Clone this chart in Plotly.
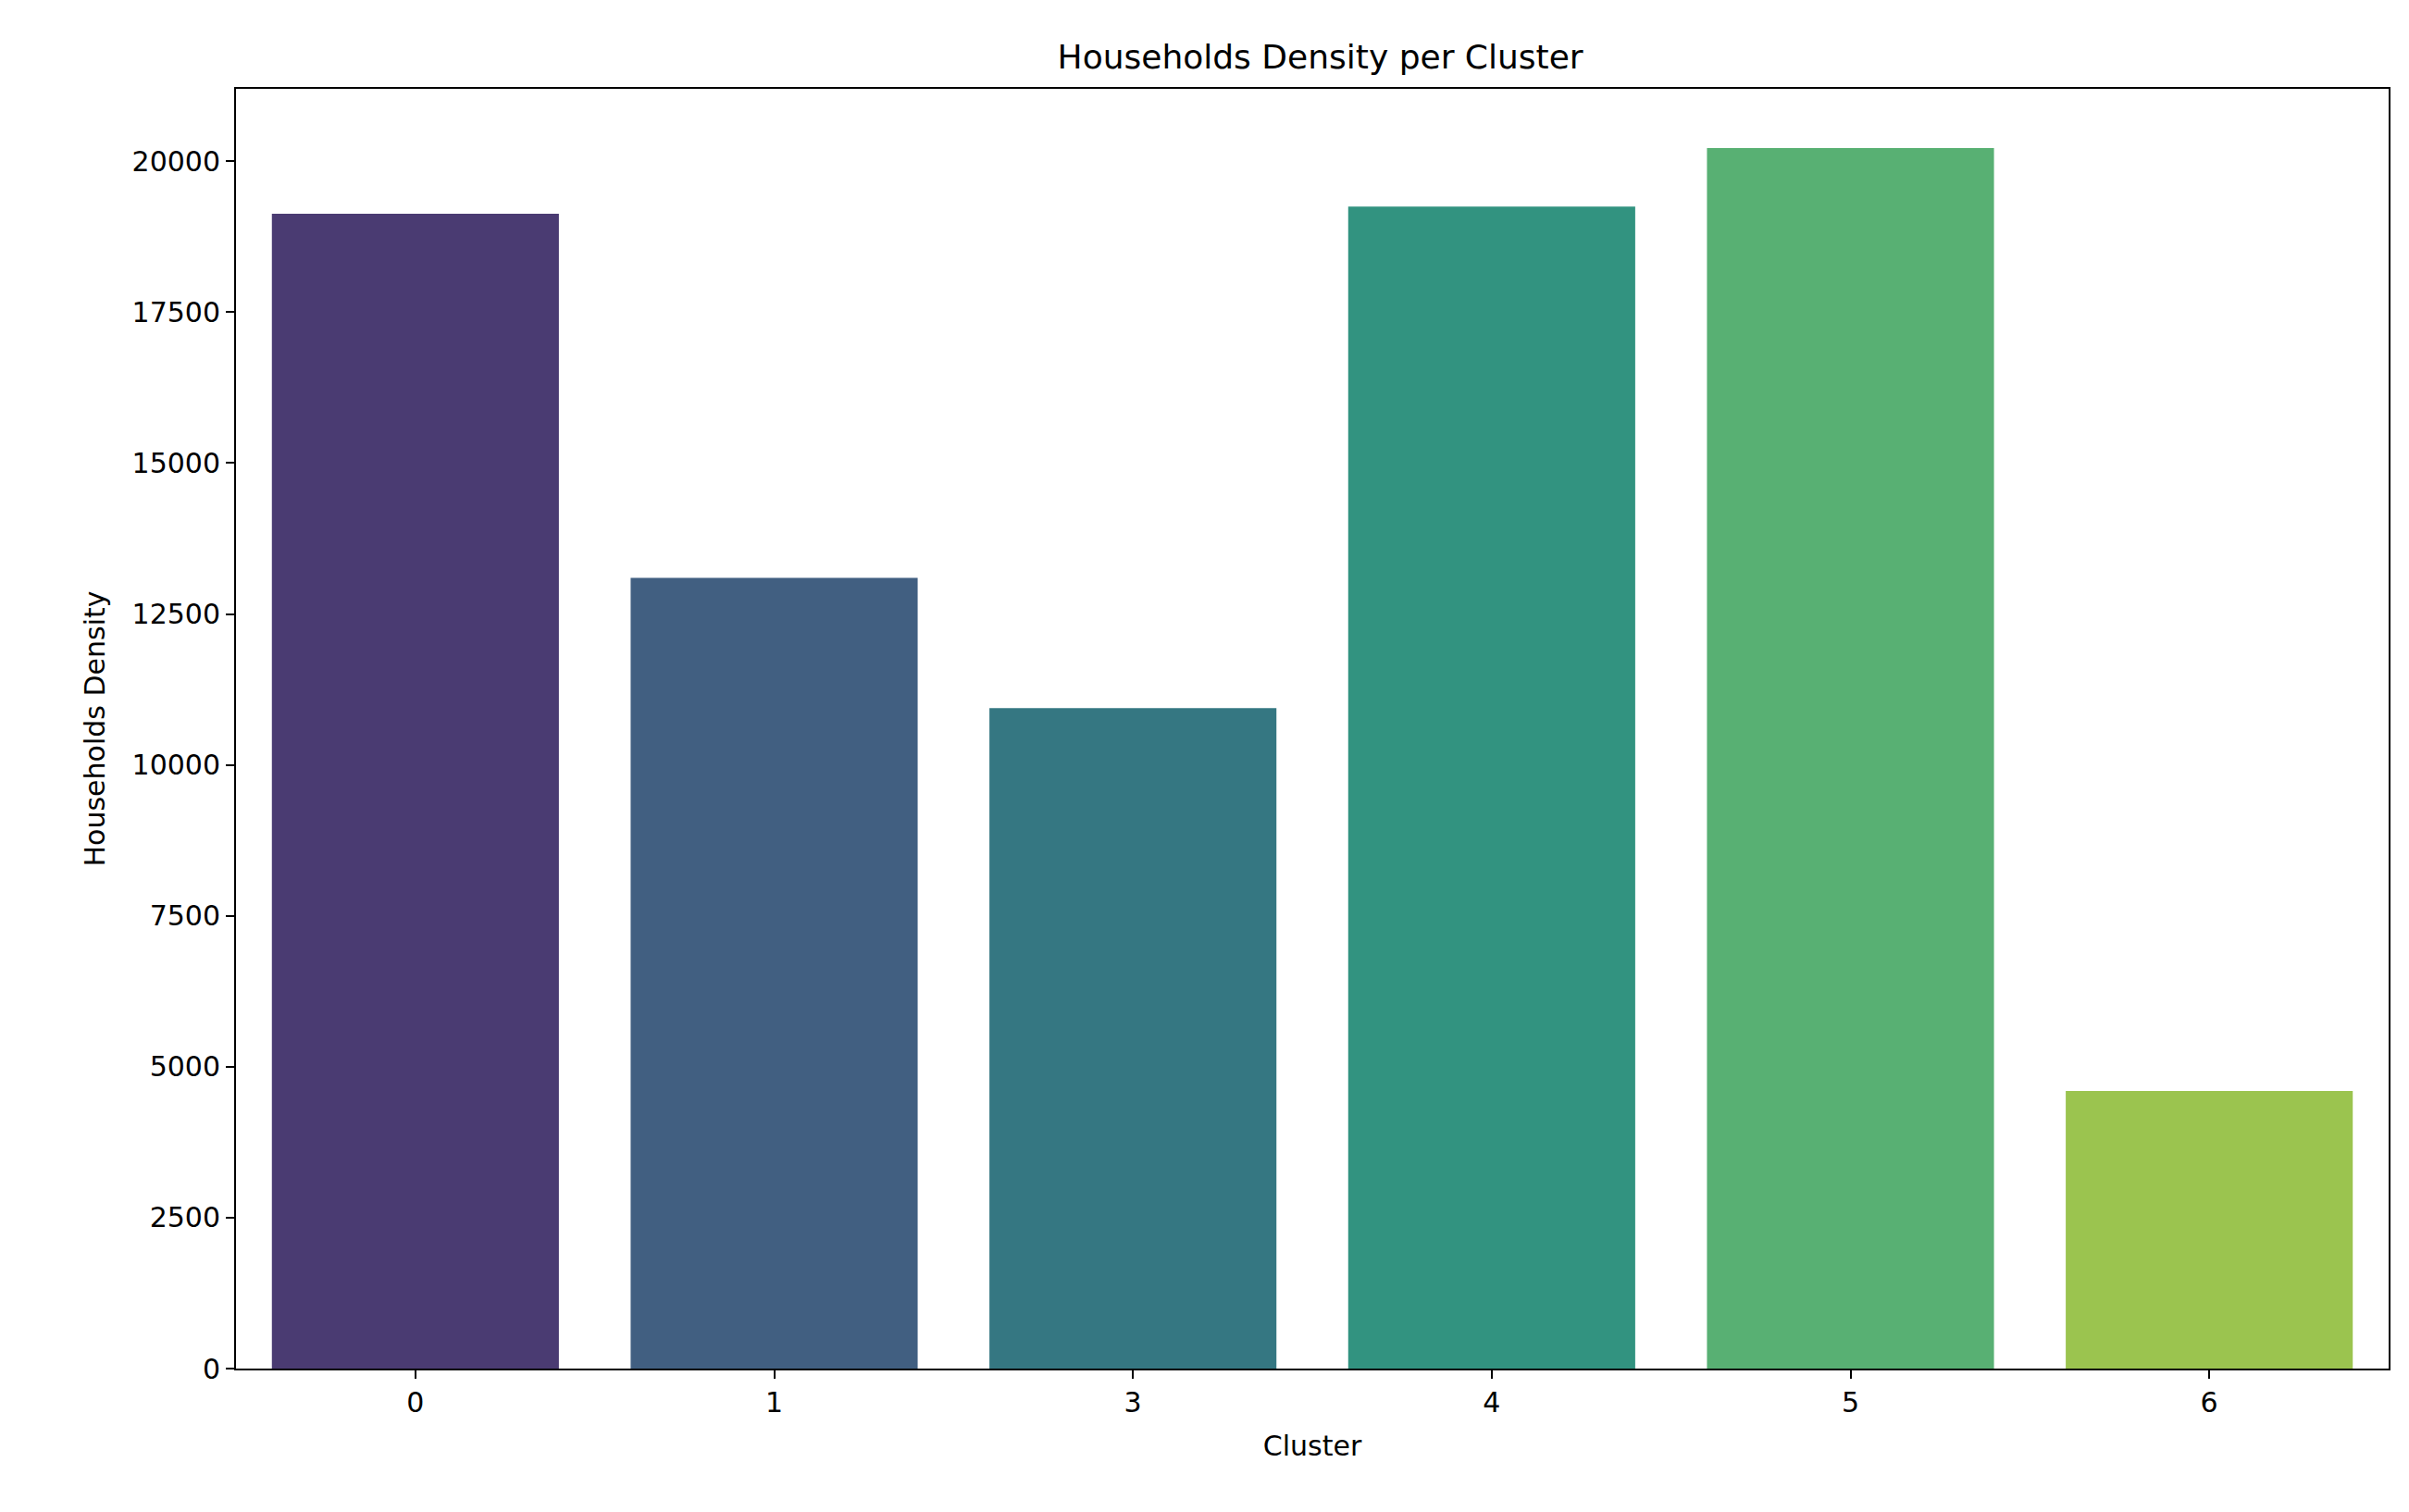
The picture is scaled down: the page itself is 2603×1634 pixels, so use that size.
import plotly.graph_objects as go

clusters = ["0", "1", "3", "4", "5", "6"]
density = [19130, 13100, 10940, 19250, 20220, 4600]
colors = ["#4a3b72", "#415f81", "#357782", "#329380", "#58b073", "#9bc44f"]

fig = go.Figure(go.Bar(x=clusters, y=density, marker_color=colors, width=0.8, marker_line_width=0))
ax = dict(showline=True, linecolor="black", linewidth=2, mirror=True, ticks="outside",
          ticklen=9, tickwidth=1.5, tickcolor="black", showgrid=False, zeroline=False,
          tickfont=dict(size=30, color="black"))
fig.update_layout(
    width=2603, height=1634, plot_bgcolor="white", paper_bgcolor="white",
    font=dict(family="DejaVu Sans", color="black"),
    margin=dict(l=247, r=30, t=88, b=163),
    title=dict(text="Households Density per Cluster", x=0.545, xanchor="center", y=0.975, font=dict(size=36)),
    xaxis=dict(**ax, title=dict(text="Cluster", font=dict(size=30), standoff=20), type="category", range=[-0.5, 5.5]),
    yaxis=dict(**ax, title=dict(text="Households Density", font=dict(size=30), standoff=20), range=[0, 21200],
               tickvals=list(range(0, 20001, 2500)), tickformat="d"),
    bargap=0.2,
)
fig.write_html("out.html")
